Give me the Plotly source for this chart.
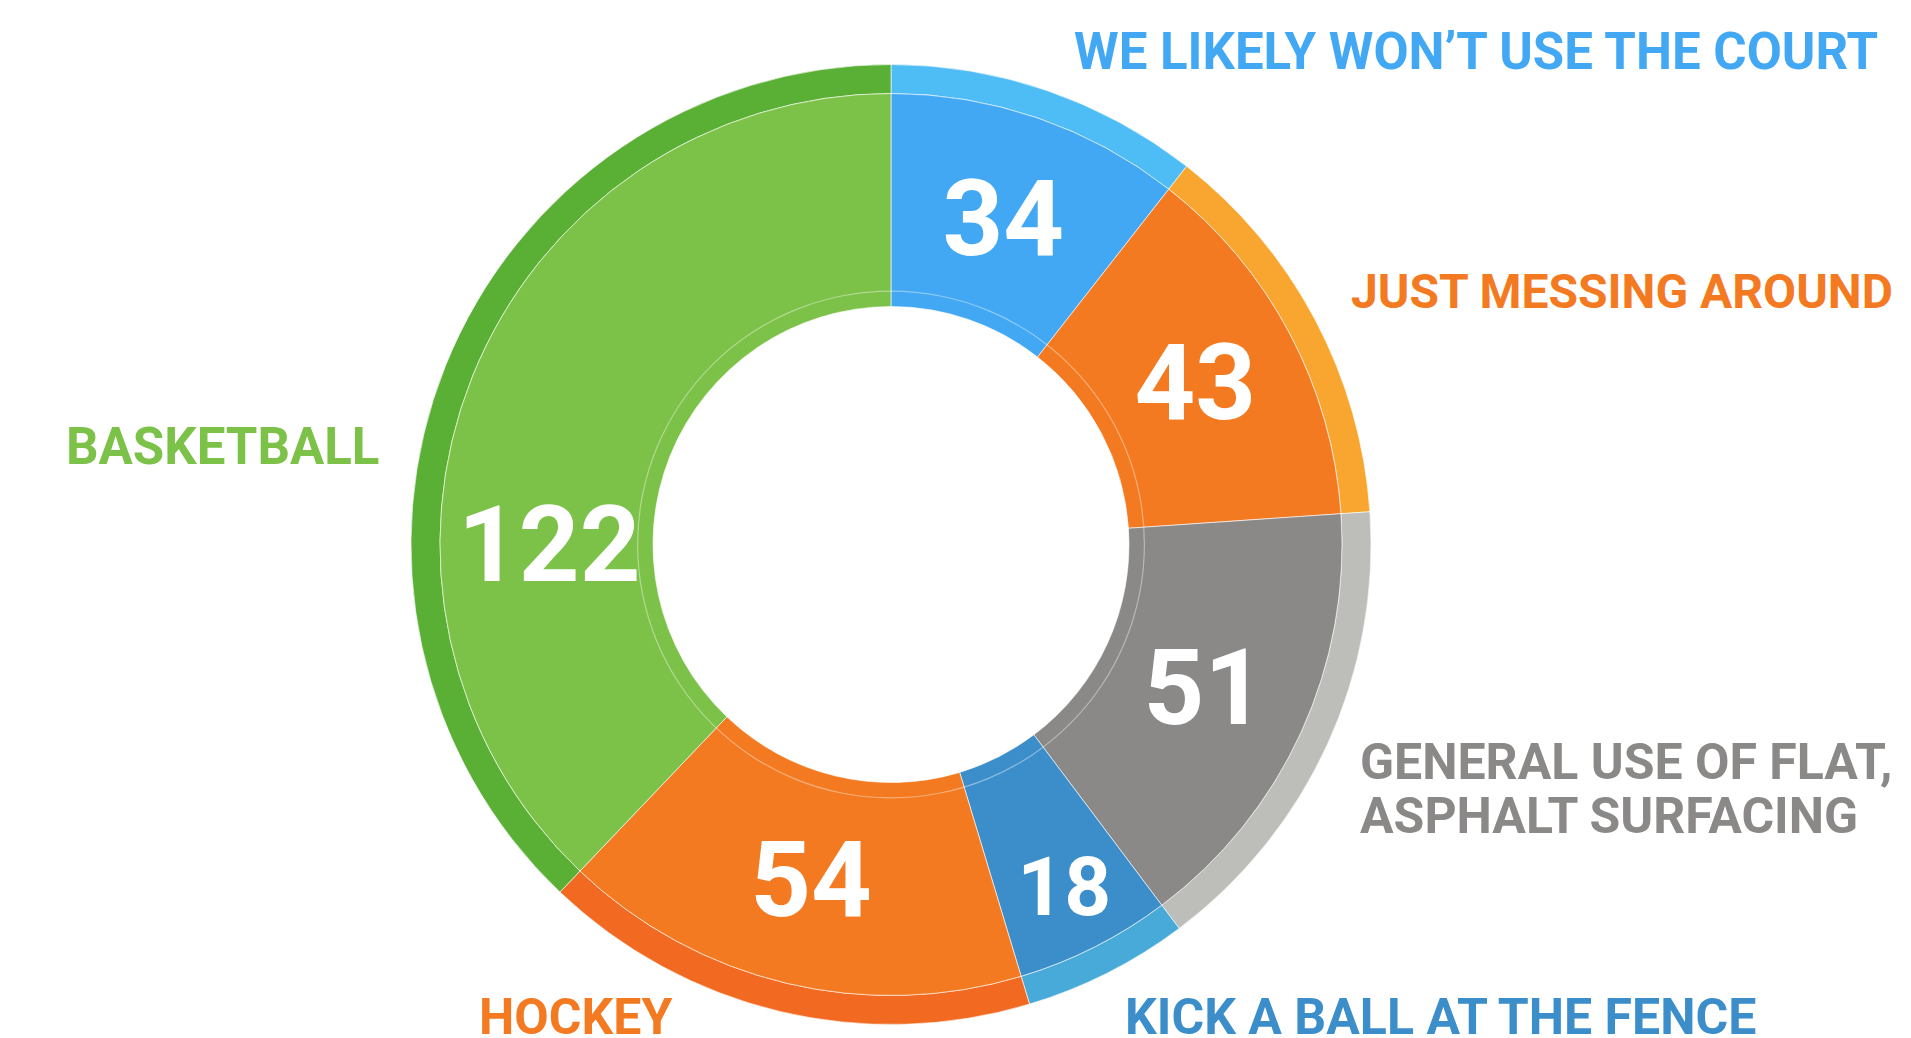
import plotly.graph_objects as go

# ---- data ----
categories = ["WE LIKELY WON’T USE THE COURT", "JUST MESSING AROUND",
              "GENERAL USE OF FLAT,<br>ASPHALT SURFACING", "KICK A BALL AT THE FENCE",
              "HOCKEY", "BASKETBALL"]
values = [34, 43, 51, 18, 54, 122]
main_colors = ["#42A8F4", "#F47A22", "#8A8987", "#3C8ECB", "#F47A22", "#7CC148"]
rim_colors = ["#4FBDF5", "#F8A630", "#BDBDBA", "#48AAD8", "#F26A22", "#5AAF35"]
label_colors = ["#42A8F4", "#F47A22", "#8A8987", "#3C8ECB", "#F47A22", "#7CC148"]

W, H = 1911, 1038
CX, CY = 891, 544.5          # donut centre in pixels (from top)
R_OUT, R_MAIN, R_LINE, R_HOLE = 480, 451, 254, 238


def dom(r):
    cy = H - CY
    return dict(x=[(CX - r) / W, (CX + r) / W], y=[(cy - r) / H, (cy + r) / H])


fig = go.Figure()

# outer rim
fig.add_trace(go.Pie(
    values=values, labels=categories, sort=False, direction="clockwise",
    domain=dom(R_OUT), hole=R_MAIN / R_OUT,
    marker=dict(colors=rim_colors, line=dict(color="rgba(255,255,255,0.6)", width=1)),
    textinfo="none", hoverinfo="skip", showlegend=False,
))

# main ring with numbers
fig.add_trace(go.Pie(
    values=values, labels=categories, sort=False, direction="clockwise",
    domain=dom(R_MAIN), hole=R_HOLE / R_MAIN,
    marker=dict(colors=main_colors, line=dict(color="rgba(255,255,255,0.6)", width=1)),
    texttemplate="%{value}", textposition="inside", insidetextorientation="horizontal",
    textfont=dict(family="Roboto", size=106, color="white", weight="bold"),
    hoverinfo="label+value", showlegend=False,
))

# faint inner line
fig.add_trace(go.Pie(
    values=[1], labels=["line"], sort=False,
    domain=dom(R_LINE), hole=(R_LINE - 1.2) / R_LINE,
    marker=dict(colors=["rgba(255,255,255,0.4)"], line=dict(width=0)),
    textinfo="none", hoverinfo="skip", showlegend=False,
))

# category labels (left x, cap-centre y of first line in pixels, font size)
label_pos = [(1072, 51, 51), (1349, 291, 48), (1358, 762, 50),
             (1123, 1017, 50), (477, 1017, 50), (64, 446, 51)]
LINE_GAP = 54
for text, col, (px, py, fs) in zip(categories, label_colors, label_pos):
    for i, line in enumerate(text.split("<br>")):
        fig.add_annotation(
            x=px / W, y=1 - (py + i * LINE_GAP) / H, xref="paper", yref="paper",
            xanchor="left", yanchor="middle", align="left", showarrow=False,
            text=line, font=dict(family="Roboto", size=fs, color=col, weight="bold"),
        )

fig.update_layout(
    width=W, height=H, margin=dict(l=0, r=0, t=0, b=0),
    paper_bgcolor="white", plot_bgcolor="white",
)

fig.write_html(
    "out.html",
    config={"displayModeBar": False},
    post_script="document.body.style.margin='0';document.body.style.overflow='hidden';",
)
